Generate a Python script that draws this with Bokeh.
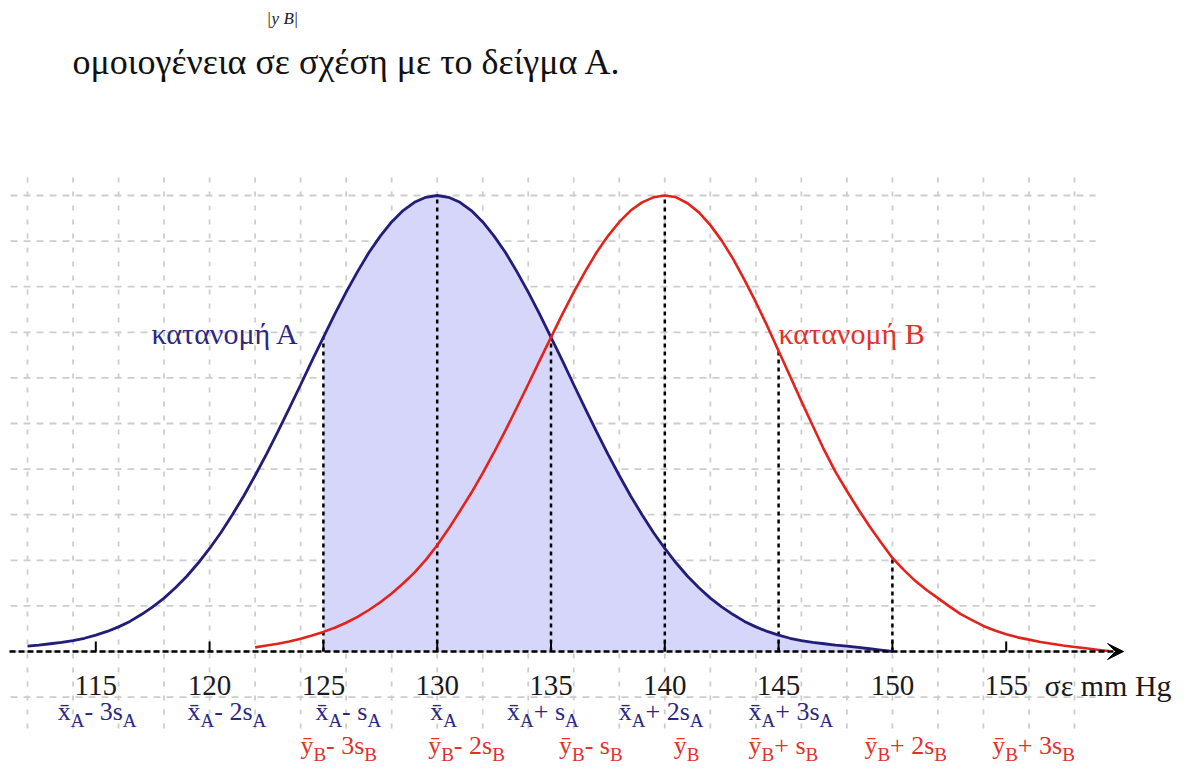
import numpy as np
from bokeh.plotting import figure
from bokeh.models import Arrow, VeeHead, ColumnDataSource, Range1d
from bokeh.core.properties import value
from bokeh.embed import file_html
from bokeh.resources import INLINE

# ---------------- data ----------------
tick_values = [115, 120, 125, 130, 135, 140, 145, 150, 155]
tick_labels = ["115", "120", "125", "130", "135", "140", "145", "150", "155"]
unit_label = "σε mm Hg"
title_text = "ομοιογένεια σε σχέση με το δείγμα Α."
label_a = "κατανομή Α"
label_b = "κατανομή Β"

mean_a = 130
mean_b = 140

# distribution A (heights in grid units, read at half-unit steps 112 ... 150)
blue_x = np.arange(112, 150.01, 0.5)
blue_h = [0.12, 0.14, 0.17, 0.20, 0.24, 0.29, 0.36, 0.44, 0.54, 0.66, 0.81, 0.98,
          1.17, 1.40, 1.65, 1.94, 2.26, 2.61, 3.00, 3.41, 3.86, 4.33, 4.82, 5.33,
          5.85, 6.38, 6.89, 7.40, 7.88, 8.33, 8.75, 9.11, 9.42, 9.67, 9.85, 9.96,
          10.0,
          9.96, 9.85, 9.67, 9.42, 9.11, 8.75, 8.33, 7.88, 7.40, 6.89, 6.38, 5.85,
          5.33, 4.82, 4.33, 3.86, 3.41, 3.00, 2.61, 2.26, 1.94, 1.65, 1.40, 1.17,
          0.98, 0.81, 0.66, 0.54, 0.44, 0.36, 0.29, 0.24, 0.20, 0.17, 0.14, 0.12,
          0.09, 0.06, 0.03, 0.0]

# distribution B (read at half-unit steps 122 ... 159.5)
red_x = np.arange(122, 159.51, 0.5)
red_h = [0.09, 0.13, 0.17, 0.22, 0.28, 0.35, 0.43, 0.52, 0.63, 0.76, 0.91, 1.08,
         1.27, 1.49, 1.73, 2.01, 2.33, 2.69, 3.08, 3.48, 3.91, 4.37, 4.85, 5.35,
         5.86, 6.38, 6.89, 7.40, 7.88, 8.33, 8.75, 9.11, 9.42, 9.67, 9.85, 9.96,
         10.0,
         9.96, 9.83, 9.63, 9.35, 9.01, 8.61, 8.15, 7.66, 7.14, 6.59, 6.04, 5.49,
         4.95, 4.42, 3.94, 3.52, 3.12, 2.74, 2.39, 2.05, 1.79, 1.55, 1.35, 1.17,
         0.99, 0.82, 0.69, 0.56, 0.46, 0.38, 0.31, 0.26, 0.21, 0.17, 0.13, 0.10,
         0.07, 0.04, 0.01]

shade_from = 125
dash_a_x = [125, 130, 135]
dash_b_x = [140, 145, 150]

row_a_ticks = [115, 120, 125, 130, 135, 140, 145]
row_a_ops = ["- 3s", "- 2s", "- s", "", "+ s", "+ 2s", "+ 3s"]
row_b_ticks = [125, 130, 135, 140, 145, 150, 155]
row_b_ops = ["- 3s", "- 2s", "- s", "", "+ s", "+ 2s", "+ 3s"]

# ---------------- styling / layout ----------------
NAVY = "#221d78"
NAVY_TXT = "#2b2783"
RED = "#e2231c"
RED_TXT = "#e3302a"
SERIF = value("Liberation Serif")

PXX = 22.76   # px per mm Hg
PXY = 45.6    # px per grid unit
W_, H_ = 1179, 767
x0_canvas = 436.7   # px of 130
y0_canvas = 651.0   # px of baseline
xs_ = 130 - x0_canvas / PXX
ys_ = -(H_ - y0_canvas) / PXY


def X(px):
    return 130 + (px - x0_canvas) / PXX


def Y(px):
    return (y0_canvas - px) / PXY


p = figure(width=W_, height=H_,
           x_range=Range1d(xs_, xs_ + W_ / PXX),
           y_range=Range1d(ys_, ys_ + H_ / PXY),
           output_backend="svg", toolbar_location=None,
           x_axis_type=None, y_axis_type=None, min_border=0,
           outline_line_color=None)
p.background_fill_color = "white"
p.border_fill_color = "white"

# grid
gx = list(range(112, 159, 2))
p.segment(x0=gx, y0=[Y(728)] * len(gx), x1=gx, y1=[Y(168)] * len(gx),
          line_color="#cdcdcd", line_width=1.8, line_dash="5 9")
gy = list(range(-1, 11))
p.segment(x0=[X(10)] * len(gy), y0=gy, x1=[X(1095)] * len(gy), y1=gy,
          line_color="#cdcdcd", line_width=1.8, line_dash="7 6")

# shading under A from 125
bx = np.array(blue_x)
bh = np.array(blue_h)
m = bx >= shade_from
p.varea(x=bx[m], y1=np.zeros(m.sum()), y2=bh[m], fill_color="#d6d6fa")

# axis line with arrow
p.add_layout(Arrow(end=VeeHead(size=16, fill_color="black", line_color="black"),
                   x_start=X(9), y_start=0, x_end=X(1123), y_end=0,
                   line_color="black", line_width=2.5, line_dash="6 3"))
p.segment(x0=tick_values, y0=[0] * len(tick_values), x1=tick_values,
          y1=[0.22] * len(tick_values), line_color="black", line_width=2)

# dashed verticals
ha = dict(zip([float(v) for v in blue_x], blue_h))
hb = dict(zip([float(v) for v in red_x], red_h))
dx = dash_a_x + dash_b_x
dtop = [ha[float(v)] for v in dash_a_x] + [hb[float(v)] for v in dash_b_x]
p.segment(x0=dx, y0=[0] * len(dx), x1=dx, y1=dtop, line_color="black",
          line_width=2.5, line_dash="4 4")

# curves
p.line(blue_x, blue_h, line_color=NAVY, line_width=2.8)
p.line(red_x, red_h, line_color=RED, line_width=2.6)

# tick labels
p.text(x=tick_values, y=[Y(685)] * len(tick_values), text=tick_labels,
       text_font=SERIF, text_font_size="29px", text_color="#1a1a1a",
       text_align="center", text_baseline="alphabetic")
p.text(x=[X(1044)], y=[Y(685)], text=[unit_label], text_font=SERIF,
       text_font_size="30px", text_color="#1a1a1a", text_baseline="alphabetic")

# curve names
p.text(x=[X(151)], y=[Y(333)], text=[label_a], text_font=SERIF,
       text_font_size="30px", text_color=NAVY_TXT, text_baseline="alphabetic")
p.text(x=[X(778)], y=[Y(333)], text=[label_b], text_font=SERIF,
       text_font_size="30px", text_color=RED_TXT, text_baseline="alphabetic")

# heading text (part of the page above the chart)
p.text(x=[X(72)], y=[Y(61)], text=[title_text], text_font=SERIF,
       text_font_size="36px", text_color="#111111", text_baseline="alphabetic")
p.text(x=[X(p_) for p_ in (266, 271, 283, 293)], y=[Y(18)] * 4,
       text=["|", "y", "B", "|"],
       text_font=SERIF, text_font_size="17px", text_font_style="italic",
       text_color="#222222", text_baseline="alphabetic")

# mean +- k s labels with subscripts
WID = {'x': 0.5, 'y': 0.5, 'A': 0.722, 'B': 0.667, '-': 0.333, ' ': 0.25,
       '+': 0.564, '2': 0.5, '3': 0.5, 's': 0.389}
MAIN, SUB = 26, 19


def tw(s, size):
    return sum(WID.get(c, 0.5) for c in s if c != "\u0304") * size


def add_row(ticks, ops, offs, letter, sub, base_px, color):
    h_main = Y(base_px)
    h_sub = Y(base_px + 9)
    main = dict(x=[], y=[], t=[], o=[])
    subs = dict(x=[], y=[], t=[], o=[])
    for v, op, off in zip(ticks, ops, offs):
        cur = off
        pieces = [(letter + "\u0304", False), (sub, True)]
        if op:
            pieces += [(op, False), (sub, True)]
        for txt, is_sub in pieces:
            d = subs if is_sub else main
            d['x'].append(v)
            d['y'].append(h_sub if is_sub else h_main)
            d['t'].append(txt)
            d['o'].append(cur)
            cur += tw(txt, SUB if is_sub else MAIN)
    p.text(x='x', y='y', text='t', x_offset='o', source=ColumnDataSource(main),
           text_font=SERIF, text_font_size=f"{MAIN}px", text_color=color,
           text_baseline="alphabetic")
    p.text(x='x', y='y', text='t', x_offset='o', source=ColumnDataSource(subs),
           text_font=SERIF, text_font_size=f"{SUB}px", text_color=color,
           text_baseline="alphabetic")


add_row(row_a_ticks, row_a_ops, [-38, -22, -8, -7, -44, -46, -30], "x", "A",
        711, NAVY_TXT)
add_row(row_b_ticks, row_b_ops, [-23, -9, 8, 9, -30, -28, -14], "y", "B",
        745, RED_TXT)

open("out.html", "w").write(file_html(p, INLINE))
